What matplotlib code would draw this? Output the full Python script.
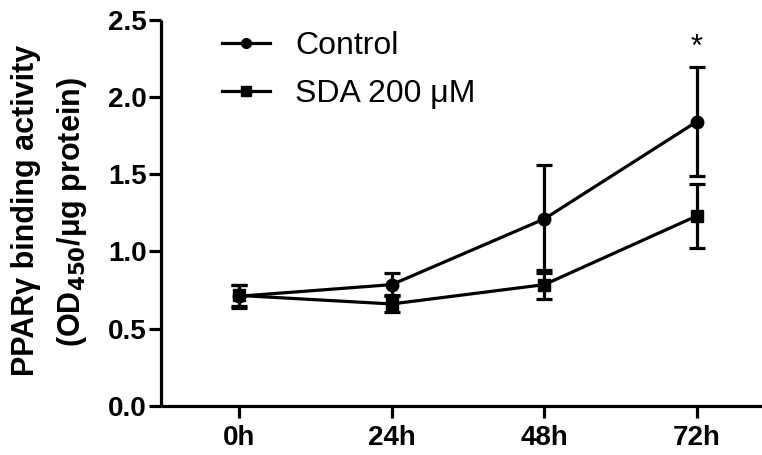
import matplotlib
matplotlib.use("Agg")
import matplotlib.pyplot as plt
from matplotlib.lines import Line2D

plt.rcParams['font.family'] = ['Liberation Sans', 'DejaVu Sans']

timepoints = ["0h", "24h", "48h", "72h"]
control_mean = [0.71, 0.785, 1.21, 1.84]
control_sem = [0.075, 0.075, 0.35, 0.35]
sda_mean = [0.715, 0.66, 0.785, 1.23]
sda_sem = [0.07, 0.055, 0.095, 0.205]
series_labels = ["Control", "SDA 200 \u03bcM"]
y_ticks = [0.0, 0.5, 1.0, 1.5, 2.0, 2.5]
significance_mark = "*"

W, H = 762, 455
fig = plt.figure(figsize=(W / 100, H / 100), dpi=100)
ax = fig.add_axes([161 / W, 1 - 406 / H, (W - 161) / W, (406 - 19.5) / H])

x = list(range(len(timepoints)))
lw = 2.3
common = dict(color="black", linewidth=lw, elinewidth=lw, capsize=6, capthick=lw)
ax.errorbar(x, control_mean, yerr=control_sem, marker="o", markersize=9, **common)
ax.errorbar(x, sda_mean, yerr=sda_sem, marker="s", markersize=8.5, **common)

ax.text(3, control_mean[3] + control_sem[3] + 0.03, significance_mark,
        ha="center", va="bottom", fontsize=22)

ax.set_xlim(-0.511, 3.426)
ax.set_ylim(0, 2.5)
ax.set_xticks(x)
ax.set_xticklabels(timepoints, fontsize=20, fontweight="bold")
ax.set_yticks(y_ticks)
ax.set_yticklabels([f"{v:.1f}" for v in y_ticks], fontsize=20, fontweight="bold")
ax.tick_params(axis="both", length=8.5, width=lw)
ax.tick_params(axis="x", pad=5)
ax.tick_params(axis="y", pad=2)
for side in ("top", "right"):
    ax.spines[side].set_visible(False)
for side in ("left", "bottom"):
    ax.spines[side].set_linewidth(lw)
    ax.spines[side].set_capstyle("butt")

handles = [
    Line2D([], [], color="black", linewidth=lw, marker="o", markersize=7),
    Line2D([], [], color="black", linewidth=lw, marker="s", markersize=7),
]
ax.legend(handles, series_labels, loc="upper left", bbox_to_anchor=(0.053, 1.045),
          frameon=False, fontsize=23, handlelength=1.5, handletextpad=0.8,
          labelspacing=0.58)

fig.text(26 / W, 1 - 210 / H, "PPAR\u03b3 binding activity", rotation=90,
         ha="center", va="center", fontsize=22, fontweight="bold")
fig.text(72 / W, 1 - 212 / H, "(OD$_{\\mathbf{450}}$/\u03bcg protein)", rotation=90,
         ha="center", va="center", fontsize=22, fontweight="bold")

fig.savefig("out.png", dpi=100)
